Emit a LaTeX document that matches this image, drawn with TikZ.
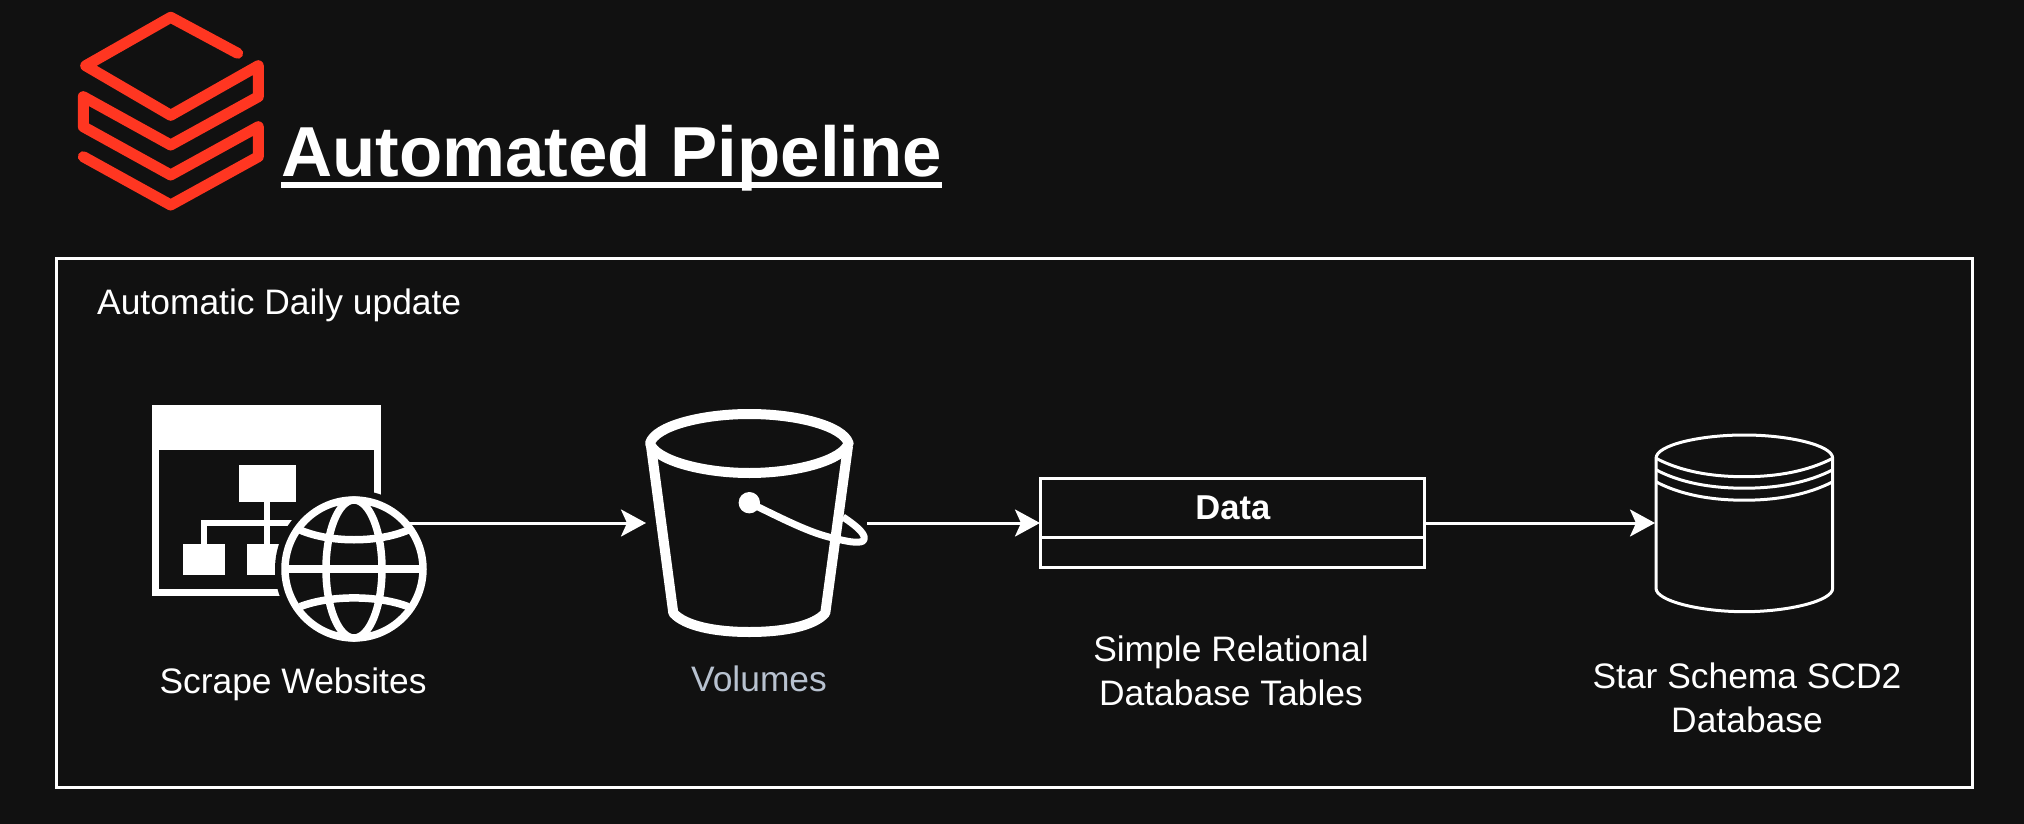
\documentclass[tikz,border=0pt]{standalone}
\usepackage{fontspec}
\setmainfont{Liberation Sans}
\usetikzlibrary{arrows.meta}
\definecolor{pagebg}{HTML}{111111}
\definecolor{logored}{HTML}{FF3621}
\definecolor{volgrey}{HTML}{B8C2D0}
\tikzset{
  iconline/.style={white,line width=#1,line join=miter},
  flow/.style={white,line width=3pt,-{Stealth[length=25pt,width=27pt,inset=6pt]}},
  label/.style={white,align=center,font=\fontsize{35.4}{44}\selectfont,inner sep=0pt},
  frame/.style={draw=white,line width=3pt,inner sep=0pt,outer sep=0pt}
}
\begin{document}
\begin{tikzpicture}[x=1pt,y=-1pt]
  \fill[pagebg] (0,0) rectangle (2024,824);
  \draw[logored,line width=11pt,line cap=round,line join=round]
    (237.7,53.3) -- (170.7,17.3) -- (85.7,65.7) -- (170.7,115.3) -- (258.3,65.7) -- (258.3,96.7)
    -- (170.7,145) -- (83.3,96.7) -- (83.3,126.7) -- (170.7,175) -- (258.3,126.7) -- (258.3,156.7)
    -- (170.7,205) -- (83.3,156.7);
  \node[white,anchor=base west,inner sep=0pt,font=\fontsize{70.8}{80}\selectfont\bfseries] (title) at (281,176) {Automated Pipeline};
  \draw[white,line width=6pt] ([yshift=-9pt]title.base west) -- ([yshift=-9pt]title.base east);
  \draw[white,line width=3pt] (56,258) rectangle (1972,787);
  \draw[label]
    (97,305) node[anchor=west,font=\fontsize{35.4}{44}\selectfont] (daily){Automatic Daily update}
    (293,684) node (scrape){Scrape Websites}
    (759,679) node[text=volgrey] (volumes){Volumes}
    (1231,671) node (tables){Simple Relational\\Database Tables}
    (1747,698) node (schema){Star Schema SCD2\\Database};

  % website icon
  \fill[white] (151.7,405.3) rectangle (380.7,450);
  \draw[iconline=7pt] (155.2,450) -- (155.2,592.5) -- (285,592.5);
  \draw[iconline=7pt] (377.2,450) -- (377.2,500);
  \fill[white] (239.3,464.7) rectangle (295.7,502);
  \fill[white] (183.3,544) rectangle (225,575.3);
  \fill[white] (246.7,544) rectangle (285,575.3);
  \draw[iconline=6pt] (267.3,502) -- (267.3,544);
  \draw[iconline=6pt] (204,544) -- (204,523.3) -- (300,523.3);

  % globe
  \fill[pagebg] (354,569) circle (79);
  \draw[iconline=7.5pt] (354,569) circle (69);
  \draw[iconline=7.5pt] (354,569) ellipse (28 and 69);
  \draw[iconline=7.5pt] (285,569) -- (423,569);
  \draw[iconline=7.5pt] (300,530) .. controls (330,543) and (378,543) .. (408.3,530);
  \draw[iconline=7.5pt] (300,606.7) .. controls (330,595) and (378,595) .. (408.3,606.7);
  \coordinate (globe) at (408,523);

  % bucket
  \draw[iconline=10pt,line join=round]
    (650,443.3) .. controls (655,426) and (702,414) .. (749.3,414)
    .. controls (797,414) and (843,426) .. (848.6,443.3)
    .. controls (843,460) and (797,473) .. (749.3,473)
    .. controls (702,473) and (655,460) .. (650,443.3) -- cycle;
  \draw[iconline=10pt,line join=round]
    (651,446) -- (673.3,613) .. controls (685,626) and (715,632) .. (749.3,632)
    .. controls (784,632) and (814,626) .. (825.3,613) -- (848,446);
  \fill[white] (749.3,502.7) circle (10.7);
  \draw[iconline=7pt,line join=round]
    (749.3,502.7) .. controls (785,520) and (810,533) .. (833,538)
    .. controls (845,541) and (858,544) .. (863,541)
    .. controls (868,536) and (858,527) .. (843,517);
  \coordinate (bucket) at (646,523);
  \coordinate (bucketout) at (867,523);

  % data table
  \node[frame,minimum width=384pt,minimum height=88.3pt] (table) at (1232,523) {};
  \draw[white,line width=3pt] (1040,537.7) -- (1424,537.7);
  \node[white,inner sep=0pt,font=\fontsize{34.5}{40}\selectfont\bfseries] (data) at (1232.8,507.5) {Data};

  % cylinder
  \draw[iconline=3pt] (1656,458.3) .. controls (1656,445) and (1700,435) .. (1744.3,435)
    .. controls (1788,435) and (1832.7,445) .. (1832.7,458.3)
    -- (1832.7,588.3) .. controls (1832.7,601) and (1788,611.7) .. (1744.3,611.7)
    .. controls (1700,611.7) and (1656,601) .. (1656,588.3) -- cycle;
  \foreach \y in {0,11.5,23.5} {
    \draw[iconline=3pt] (1656,458.3+\y) .. controls (1680,471+\y) and (1710,476.7+\y) .. (1744.3,476.7+\y)
      .. controls (1778,476.7+\y) and (1808,471+\y) .. (1832.7,458.3+\y);
  }
  \coordinate (cylinder) at (1655,523);

  \begin{scope}[flow]
    \draw (globe) to (bucket);
    \draw (bucketout) to (table);
    \draw (table) to (cylinder);
  \end{scope}
\end{tikzpicture}
\end{document}
